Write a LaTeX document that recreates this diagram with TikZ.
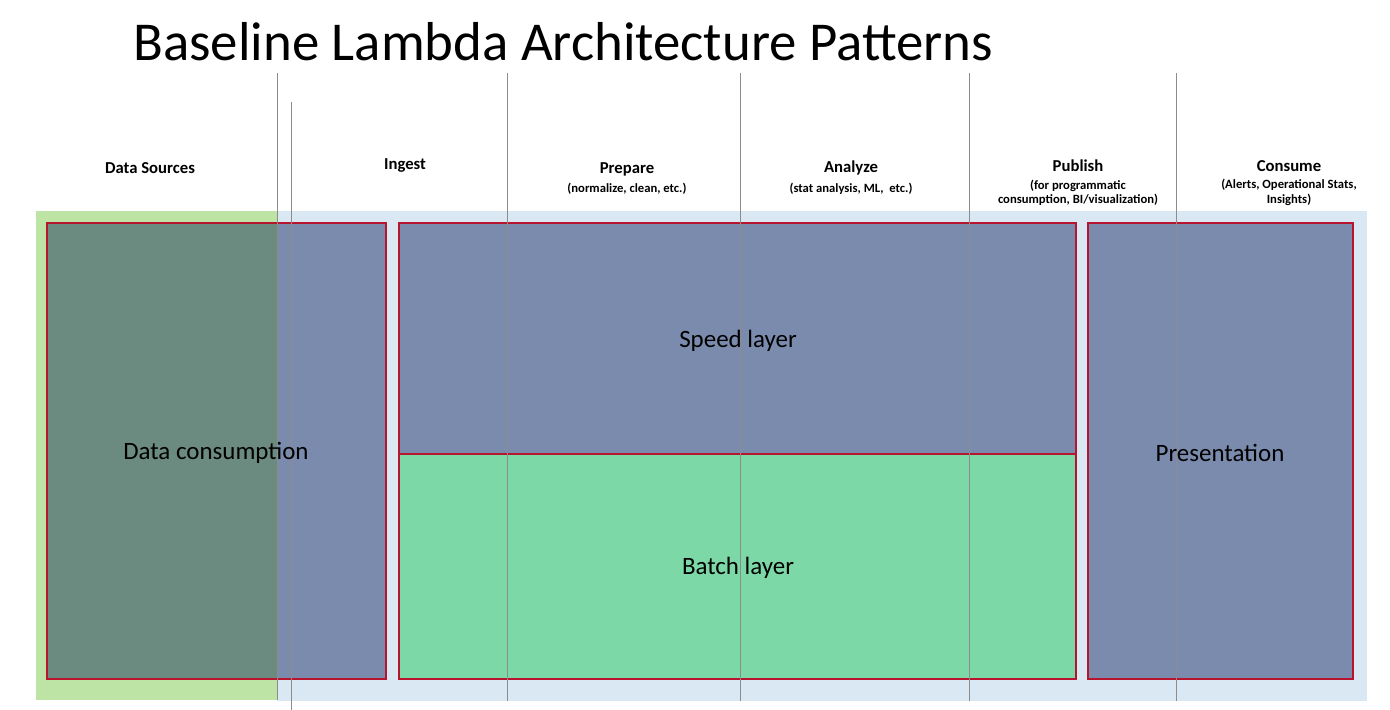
\documentclass[tikz,border=0pt]{standalone}
\usepackage{fontspec}
\setmainfont{Carlito}
\usepackage{xcolor}
\usepackage{tikz}
\usetikzlibrary{positioning}
\definecolor{layerblue}{HTML}{7A8BAD}
\definecolor{layergreen}{HTML}{7CD9A7}
\definecolor{bgblue}{HTML}{DAE8F3}
\definecolor{bggreen}{HTML}{BDE3A5}
\definecolor{mixgreen}{HTML}{6B8A80}
\definecolor{edgered}{HTML}{B8142E}
\definecolor{rulegray}{HTML}{8C8C8C}
\tikzstyle{edge}=[draw=edgered,line width=1.1pt]
\tikzstyle{layer}=[inner sep=0pt,font=\fontsize{14.2}{17}\selectfont]
\tikzstyle{stage}=[inner sep=0pt,font=\bfseries\fontsize{9.5}{11}\selectfont]
\tikzstyle{sub}=[inner sep=0pt,align=center,font=\bfseries\fontsize{7.2}{8.2}\selectfont]
\tikzstyle{divider}=[draw=rulegray,line width=.45pt]
\begin{document}
\begin{tikzpicture}[x=0.02cm,y=-0.02cm]
	\useasboundingbox[fill=white] (0,0) rectangle (1390,710);
	% title
	\node[anchor=base west,inner sep=0pt,font=\fontsize{31.2}{37}\selectfont] (title) at (133,60) {Baseline Lambda Architecture Patterns};
	% backgrounds
	\fill[bggreen] (36,211) rectangle (277,700);
	\fill[bgblue] (277,211) rectangle (1367,701);
	% layer boxes
	\fill[layerblue] (47,223) rectangle (386,679);
	\fill[mixgreen] (47,223) rectangle (277,679);
	\draw[edge] (47,223) rectangle (386,679);
	\fill[layerblue] (399,223) rectangle (1076,454);
	\fill[layergreen] (399,454) rectangle (1076,679);
	\draw[edge] (399,223) rectangle (1076,679);
	\draw[edge] (399,454) -- (1076,454);
	\fill[layerblue] (1088,223) rectangle (1353,679);
	\draw[edge] (1088,223) rectangle (1353,679);
	% stage dividers
	\draw[divider] (277,73) -- (277,700);
	\draw[divider] (291,102) -- (291,710);
	\draw[divider] (507,73) -- (507,701);
	\draw[divider] (740,73) -- (740,701);
	\draw[divider] (969.5,73) -- (969.5,701);
	\draw[divider] (1176,73) -- (1176,701);
	% stage headings
	\node[stage] (sources) at (150,168) {Data Sources};
	\node[stage] (ingest)  at (405,166) {Ingest};
	\node[stage] (prepare) at (627,169) {Prepare};
	\node[sub,below=4pt of prepare] (prepare-sub) {(normalize, clean, etc.)};
	\node[stage] (analyze) at (851,168) {Analyze};
	\node[sub,below=4pt of analyze] (analyze-sub) {(stat analysis, ML,\ \ etc.)};
	\node[stage] (publish) at (1078,166) {Publish};
	\node[sub,below=4pt of publish] (publish-sub) {(for programmatic\\consumption, BI/visualization)};
	\node[stage] (consume) at (1289,166) {Consume};
	\node[sub,below=4pt of consume] (consume-sub) {(Alerts, Operational Stats,\\Insights)};
	% layer labels
	\node[layer] (consumption)  at (216,453)  {Data consumption};
	\node[layer] (speed)        at (738,341)  {Speed layer};
	\node[layer] (batch)        at (738,568)  {Batch layer};
	\node[layer] (presentation) at (1220,453) {Presentation};
\end{tikzpicture}
\end{document}
